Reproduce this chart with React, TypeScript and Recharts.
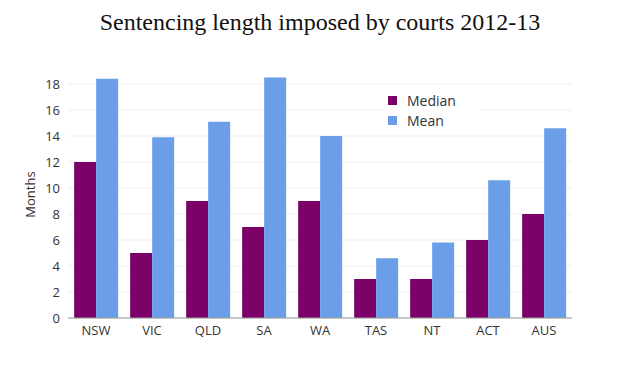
import React from "react";
import {
  BarChart,
  Bar,
  XAxis,
  YAxis,
  CartesianGrid,
} from "recharts";

const regions = ["NSW", "VIC", "QLD", "SA", "WA", "TAS", "NT", "ACT", "AUS"];
const medianMonths = [12, 5, 9, 7, 9, 3, 3, 6, 8];
const meanMonths = [18.4, 13.9, 15.1, 18.5, 14.0, 4.6, 5.8, 10.6, 14.6];
const yTicks = [0, 2, 4, 6, 8, 10, 12, 14, 16, 18];

const MEDIAN_COLOR = "#7b0068";
const MEAN_COLOR = "#6b9ee9";

const data = regions.map((region, i) => ({
  region,
  median: medianMonths[i],
  mean: meanMonths[i],
}));

const tickStyle = { fontSize: 13, fill: "#333", fontFamily: "Open Sans" };

const legendItems = [
  { label: "Median", color: MEDIAN_COLOR },
  { label: "Mean", color: MEAN_COLOR },
];

export default function App() {
  return (
    <div style={{ position: "relative", width: 620, height: 372, background: "#fff" }}>
      <style>{`body{margin:0}`}</style>
      <div
        style={{
          position: "absolute",
          top: 9,
          left: 0,
          width: 640,
          textAlign: "center",
          fontFamily: "Liberation Serif",
          fontSize: 24,
          color: "#111",
        }}
      >
        Sentencing length imposed by courts 2012-13
      </div>
      <BarChart
        width={620}
        height={372}
        data={data}
        margin={{ top: 71, right: 48, left: 8, bottom: 24 }}
        barGap={0}
        barCategoryGap="11%"
      >
        <CartesianGrid vertical={false} stroke="#eee" syncWithTicks />
        <XAxis
          dataKey="region"
          tick={tickStyle}
          tickLine={false}
          axisLine={{ stroke: "#999" }}
          interval={0}
        />
        <YAxis
          domain={[0, 19]}
          ticks={yTicks}
          tick={tickStyle}
          tickLine={false}
          axisLine={false}
          width={60}
          interval={0}
          label={{
            value: "Months",
            angle: -90,
            position: "insideLeft",
            offset: 22,
            style: { fontSize: 13, fill: "#333", fontFamily: "Open Sans", textAnchor: "middle" },
          }}
        />
        <Bar dataKey="median" name="Median" fill={MEDIAN_COLOR} isAnimationActive={false} />
        <Bar dataKey="mean" name="Mean" fill={MEAN_COLOR} isAnimationActive={false} />
      </BarChart>
      <div
        style={{
          position: "absolute",
          top: 90,
          left: 384,
          width: 94,
          padding: "0 0 0 4px",
          background: "#fff",
          fontFamily: "Open Sans",
          fontSize: 14,
          color: "#333",
        }}
      >
        {legendItems.map((item) => (
          <div key={item.label} style={{ display: "flex", alignItems: "center", height: 20 }}>
            <span
              style={{
                display: "inline-block",
                width: 9,
                height: 9,
                background: item.color,
                marginRight: 10,
              }}
            />
            {item.label}
          </div>
        ))}
      </div>
    </div>
  );
}
